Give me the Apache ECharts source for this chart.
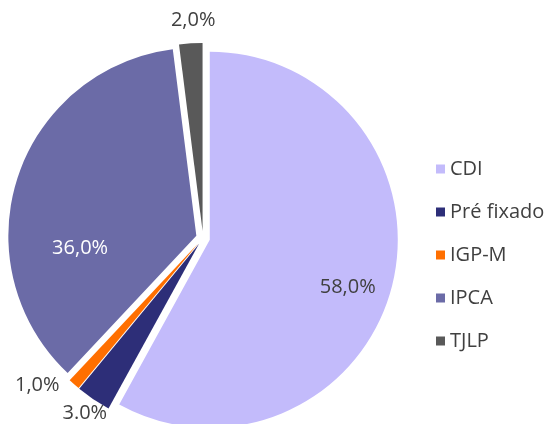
<!DOCTYPE html>
<html>
<head>
<meta charset="utf-8">
<script src="https://cdn.jsdelivr.net/npm/echarts@6/dist/echarts.min.js"></script>
<style>
  html, body { margin: 0; padding: 0; background: #fff; }
  #chart { width: 551px; height: 424px; }
</style>
</head>
<body>
<div id="chart"></div>
<script>
// dados do gráfico
var categorias = ['CDI', 'Pré fixado', 'IGP-M', 'IPCA', 'TJLP'];
var valores = [58, 3, 1, 36, 2];
var rotulos = ['58,0%', '3.0%', '1,0%', '36,0%', '2,0%'];
var cores = ['#c3bbfb', '#2d2e78', '#ff6f00', '#6b6ba7', '#595959'];

var chart = echarts.init(document.getElementById('chart'));

// rótulos: dentro para as fatias grandes, fora para as pequenas
var labelCfg = [
  { position: 'inside', color: '#404040' },
  { position: 'outside', color: '#404040' },
  { position: 'outside', color: '#404040' },
  { position: 'inside', color: '#ffffff' },
  { position: 'outside', color: '#404040' }
];
// deslocamento dos rótulos (px)
var deslocRotulo = [[44, 23], [21, 3], [-2, -2], [-24, 42], [30, -19]];

var dados = categorias.map(function (nome, i) {
  return {
    name: nome,
    value: valores[i],
    selected: true,
    itemStyle: { color: cores[i] },
    label: labelCfg[i]
  };
});

var option = {
  animation: false,
  textStyle: { fontFamily: 'Open Sans' },
  legend: {
    orient: 'vertical',
    left: 431,
    top: 154,
    itemWidth: 9,
    itemHeight: 9,
    itemGap: 23,
    icon: 'rect',
    textStyle: { fontSize: 20, color: '#404040', fontFamily: 'Open Sans' },
    data: categorias
  },
  series: [
    {
      type: 'pie',
      center: [203, 238],
      radius: 188,
      startAngle: 90,
      clockwise: true,
      selectedMode: 'multiple',
      selectedOffset: 7,
      label: {
        show: true,
        fontSize: 20,
        fontFamily: 'Open Sans',
        formatter: function (p) { return rotulos[p.dataIndex]; }
      },
      labelLine: { show: false, length: 4, length2: 0 },
      labelLayout: function (p) {
        var d = deslocRotulo[p.dataIndex];
        return { dx: d[0], dy: d[1] };
      },
      emphasis: { disabled: true },
      data: dados
    }
  ]
};
chart.setOption(option);
</script>
</body>
</html>
